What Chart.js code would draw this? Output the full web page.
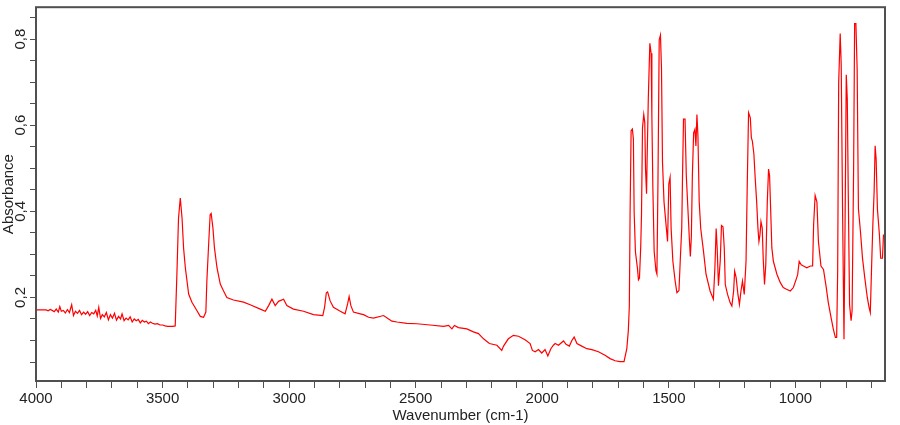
<!DOCTYPE html>
<html>
<head>
<meta charset="utf-8">
<script src="https://cdn.jsdelivr.net/npm/chart.js@4.4.1/dist/chart.umd.min.js"></script>
<style>
  html, body { margin: 0; padding: 0; background: #fff; }
  #wrap { width: 900px; height: 425px; }
</style>
</head>
<body>
<div id="wrap"><canvas id="spectrum"></canvas></div>
<script>
// spectrum, high to low wavenumber
const wavenumber = [
  4000, 3985, 3970, 3960, 3952, 3944, 3936, 3928, 3920, 3912,
  3906, 3900, 3892, 3884, 3876, 3868, 3859, 3852, 3844, 3836,
  3828, 3820, 3812, 3804, 3796, 3788, 3780, 3772, 3764, 3758,
  3752, 3745, 3738, 3730, 3722, 3714, 3706, 3698, 3690, 3682,
  3674, 3666, 3660, 3652, 3644, 3636, 3628, 3620, 3612, 3604,
  3596, 3588, 3580, 3572, 3564, 3556, 3548, 3540, 3530, 3520,
  3510, 3500, 3490, 3480, 3470, 3460, 3450, 3443, 3437, 3430,
  3423, 3417, 3410,
  3397, 3384, 3364, 3351, 3338, 3329, 3325, 3318, 3312, 3308,
  3301, 3295, 3285, 3272, 3259, 3246, 3220, 3180, 3154, 3114,
  3094, 3081, 3068, 3055, 3042, 3022, 3009, 2983, 2943, 2904,
  2867, 2860, 2853, 2848, 2838, 2825, 2798, 2779, 2769, 2763,
  2756, 2746, 2719, 2706, 2686, 2667, 2627, 2607, 2594, 2574,
  2535, 2495, 2443, 2390, 2370, 2357, 2347, 2331, 2298, 2272,
  2252, 2232, 2209, 2179, 2160, 2153, 2134, 2114, 2094, 2068,
  2048, 2039, 2028, 2015, 2002, 1989, 1978, 1966, 1956, 1949,
  1936, 1916, 1906, 1893, 1883, 1874, 1863, 1844, 1824, 1804,
  1778, 1752, 1732, 1712, 1693, 1677, 1670, 1666, 1660, 1656,
  1653, 1649, 1644, 1640, 1637, 1632, 1624, 1620, 1616, 1611,
  1608, 1604, 1599, 1595, 1592, 1588, 1586, 1581, 1575, 1570,
  1567, 1563, 1558, 1551, 1547, 1543, 1538, 1533, 1529, 1525,
  1519, 1511, 1505, 1500, 1495, 1491, 1484, 1475, 1468, 1460,
  1455, 1449, 1446, 1442, 1436, 1431, 1424, 1419, 1415, 1411,
  1407, 1402, 1397, 1393, 1389, 1385, 1380, 1374, 1363, 1353,
  1337, 1324, 1318, 1313, 1309, 1304, 1297, 1292, 1286, 1281,
  1277, 1268, 1258, 1251, 1244, 1240, 1234, 1227, 1221, 1215,
  1209, 1202, 1195, 1190, 1185, 1178, 1174, 1170, 1164, 1159,
  1153, 1148, 1144, 1140, 1136, 1131, 1127, 1122, 1117, 1111,
  1106, 1102, 1097, 1093, 1087, 1073, 1060, 1048, 1035, 1020,
  1008, 997, 991, 985, 977, 968, 955, 941, 932, 928,
  922, 915, 909, 899, 889, 878, 870, 859, 850, 842,
  837, 833, 829, 823, 819, 814, 808, 803, 799, 795,
  791, 786, 780, 776, 770, 766, 761, 756, 751, 743,
  735, 726, 716, 709, 704, 698, 694, 689, 685, 681,
  676, 668, 663, 656, 652, 648
];

const absorbance = [
  0.171, 0.171, 0.171, 0.171, 0.169, 0.172, 0.170, 0.167, 0.173, 0.166,
  0.179, 0.168, 0.170, 0.164, 0.172, 0.165, 0.183, 0.158, 0.168, 0.163,
  0.170, 0.160, 0.166, 0.161, 0.167, 0.158, 0.165, 0.162, 0.170, 0.157,
  0.177, 0.151, 0.160, 0.155, 0.165, 0.148, 0.160, 0.152, 0.163, 0.147,
  0.156, 0.150, 0.162, 0.146, 0.152, 0.148, 0.155, 0.143, 0.150, 0.146,
  0.149, 0.141, 0.147, 0.143, 0.145, 0.139, 0.143, 0.140, 0.138, 0.139,
  0.136, 0.136, 0.134, 0.133, 0.133, 0.133, 0.134, 0.261, 0.384, 0.431,
  0.384, 0.315, 0.269,
  0.208, 0.189, 0.169, 0.156, 0.154, 0.166, 0.238, 0.323, 0.392, 0.395,
  0.361, 0.315, 0.269, 0.231, 0.215, 0.200, 0.194, 0.189, 0.183, 0.173,
  0.168, 0.181, 0.196, 0.181, 0.191, 0.196, 0.181, 0.173, 0.168, 0.160,
  0.158, 0.177, 0.211, 0.213, 0.192, 0.177, 0.168, 0.162, 0.185, 0.202,
  0.181, 0.166, 0.162, 0.160, 0.154, 0.152, 0.158, 0.150, 0.145, 0.143,
  0.140, 0.139, 0.136, 0.133, 0.135, 0.127, 0.135, 0.130, 0.127, 0.120,
  0.116, 0.104, 0.093, 0.089, 0.077, 0.087, 0.104, 0.112, 0.110, 0.102,
  0.093, 0.077, 0.074, 0.079, 0.071, 0.079, 0.064, 0.081, 0.089, 0.093,
  0.089, 0.099, 0.091, 0.087, 0.100, 0.108, 0.093, 0.087, 0.081, 0.079,
  0.074, 0.066, 0.058, 0.053, 0.051, 0.051, 0.070, 0.081, 0.123, 0.180,
  0.398, 0.587, 0.591, 0.568, 0.398, 0.306, 0.268, 0.241, 0.245, 0.318,
  0.391, 0.594, 0.625, 0.606, 0.498, 0.441, 0.514, 0.664, 0.790, 0.767,
  0.621, 0.453, 0.308, 0.262, 0.254, 0.464, 0.798, 0.809, 0.733, 0.514,
  0.422, 0.369, 0.330, 0.464, 0.479, 0.361, 0.284, 0.238, 0.211, 0.216,
  0.284, 0.361, 0.476, 0.614, 0.614, 0.483, 0.398, 0.337, 0.295, 0.341,
  0.483, 0.582, 0.590, 0.552, 0.625, 0.575, 0.422, 0.360, 0.307, 0.254,
  0.215, 0.196, 0.269, 0.360, 0.315, 0.227, 0.284, 0.367, 0.364, 0.315,
  0.230, 0.207, 0.188, 0.180, 0.215, 0.261, 0.246, 0.207, 0.184, 0.215,
  0.238, 0.207, 0.284, 0.468, 0.629, 0.617, 0.571, 0.563, 0.533, 0.479,
  0.422, 0.361, 0.330, 0.345, 0.376, 0.361, 0.288, 0.230, 0.276, 0.422,
  0.498, 0.483, 0.391, 0.315, 0.284, 0.254, 0.235, 0.223, 0.219, 0.215,
  0.223, 0.242, 0.253, 0.284, 0.276, 0.273, 0.269, 0.273, 0.273, 0.369,
  0.437, 0.422, 0.330, 0.273, 0.265, 0.223, 0.188, 0.153, 0.126, 0.107,
  0.107, 0.261, 0.698, 0.813, 0.741, 0.422, 0.103, 0.422, 0.717, 0.660,
  0.437, 0.184, 0.146, 0.169, 0.498, 0.836, 0.836, 0.729, 0.406, 0.353,
  0.292, 0.246, 0.200, 0.177, 0.165, 0.291, 0.369, 0.445, 0.552, 0.521,
  0.406, 0.345, 0.291, 0.291, 0.345, 0.345
];

const xTicks = [
  700, 800, 900, 1000, 1100, 1200, 1300, 1400, 1500, 1600, 1700, 1800,
  1900, 2000, 2100, 2200, 2300, 2400, 2500, 2600, 2700, 2800, 2900, 3000,
  3100, 3200, 3300, 3400, 3500, 3600, 3700, 3800, 3900, 4000
];
const xLabelStep = 500;
const yTicks = [
  0.05, 0.1, 0.15, 0.2, 0.25, 0.3, 0.35, 0.4, 0.45,
  0.5, 0.55, 0.6, 0.65, 0.7, 0.75, 0.8, 0.85
];
const yLabelValues = [0.2, 0.4, 0.6, 0.8];
const yLabelTexts = ["0,2", "0,4", "0,6", "0,8"];

const axisColor = "#505050";
const textColor = "#222";
const fontFamily = '"Liberation Sans", Arial, sans-serif';

const points = wavenumber.map((w, i) => ({ x: w, y: absorbance[i] }));

const framePlugin = {
  id: "frame",
  afterDraw(chart) {
    const { ctx, chartArea: area, scales } = chart;
    ctx.save();
    ctx.strokeStyle = axisColor;
    ctx.lineWidth = 2;
    ctx.strokeRect(area.left, area.top, area.right - area.left, area.bottom - area.top);

    // y labels are drawn turned on their side
    ctx.fillStyle = textColor;
    ctx.font = "15px " + fontFamily;
    ctx.textAlign = "center";
    ctx.textBaseline = "middle";
    yLabelValues.forEach((v, i) => {
      const y = scales.y.getPixelForValue(v);
      ctx.save();
      ctx.translate(21, y);
      ctx.rotate(-Math.PI / 2);
      ctx.fillText(yLabelTexts[i], 0, 0);
      ctx.restore();
    });
    ctx.restore();
  }
};

new Chart(document.getElementById("spectrum"), {
  type: "line",
  data: {
    datasets: [
      {
        data: points,
        borderColor: "#ff0000",
        borderWidth: 1.2,
        pointRadius: 0,
        tension: 0,
        fill: false
      }
    ]
  },
  options: {
    responsive: true,
    maintainAspectRatio: false,
    animation: false,
    devicePixelRatio: 1,
    layout: { padding: { top: 3, right: 15, left: 0, bottom: 0 } },
    plugins: {
      legend: { display: false },
      tooltip: { enabled: false }
    },
    scales: {
      x: {
        type: "linear",
        reverse: true,
        min: 646,
        max: 4000,
        afterBuildTicks: (scale) => {
          scale.ticks = xTicks.map((v) => ({ value: v }));
        },
        afterFit: (scale) => {
          scale.height = 44;
        },
        grid: { drawOnChartArea: false, drawTicks: true, tickLength: 7, color: axisColor },
        border: { display: false },
        ticks: {
          color: textColor,
          font: { family: fontFamily, size: 15 },
          padding: 2,
          maxRotation: 0,
          autoSkip: false,
          callback: (v) => (v % xLabelStep === 0 ? String(v) : "")
        },
        title: {
          display: true,
          text: "Wavenumber (cm-1)",
          color: textColor,
          font: { family: fontFamily, size: 15 },
          padding: 0
        }
      },
      y: {
        type: "linear",
        min: 0.006,
        max: 0.874,
        afterBuildTicks: (scale) => {
          scale.ticks = yTicks.map((v) => ({ value: v }));
        },
        afterFit: (scale) => {
          scale.width = 36;
        },
        grid: { drawOnChartArea: false, drawTicks: true, tickLength: 6, color: axisColor },
        border: { display: false },
        ticks: {
          padding: 0,
          callback: () => ""
        },
        title: {
          display: true,
          text: "Absorbance",
          color: textColor,
          font: { family: fontFamily, size: 15 },
          padding: 0
        }
      }
    }
  },
  plugins: [framePlugin]
});
</script>
</body>
</html>
